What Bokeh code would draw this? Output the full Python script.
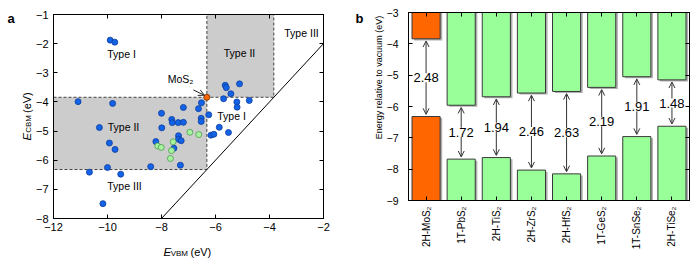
import math
from bokeh.plotting import figure
from bokeh.models import (ColumnDataSource, Label, LabelSet, Arrow, OpenHead,
                          LinearAxis, CategoricalAxis, CustomJSTickFormatter,
                          FixedTicker, Range1d, FactorRange)
from bokeh.layouts import row
from bokeh.embed import file_html
from bokeh.resources import INLINE
from bokeh.core.properties import value
from bokeh.transform import dodge

FONT = "Liberation Sans"

# ---------------- Panel a data ----------------
blue_vbm = [-9.90, -9.73, -11.09, -9.81, -10.30, -9.93, -9.72, -10.00, -10.67, -9.51,
            -10.17, -8.40, -8.21, -8.00, -7.99, -7.62, -7.60, -7.38, -7.19, -7.19,
            -7.37, -7.37, -7.27, -7.54, -7.30, -6.63, -6.52, -6.53, -6.53, -6.25,
            -6.17, -6.06, -5.86, -5.52, -5.70, -5.64, -5.60, -5.43, -5.11, -5.21,
            -5.20, -4.75]
blue_cbm = [-1.88, -1.95, -3.99, -4.05, -4.88, -5.41, -5.63, -6.25, -6.41, -6.48,
            -7.49, -6.22, -5.36, -4.39, -4.89, -4.60, -4.71, -4.71, -4.70, -4.19,
            -5.16, -5.28, -5.33, -5.59, -6.17, -4.23, -4.03, -4.56, -4.67, -4.44,
            -5.14, -5.11, -4.87, -5.05, -3.89, -3.43, -3.51, -3.72, -3.38, -4.00,
            -4.18, -3.95]
green_vbm = [-8.14, -8.01, -7.57, -7.63, -7.67, -6.95, -6.62]
green_cbm = [-5.51, -5.56, -5.37, -5.67, -5.94, -5.04, -5.12]
mos2_vbm = -6.32
mos2_cbm = -3.84

xa_lo, xa_hi = -12, -2
ya_lo, ya_hi = -8, -1
xa_ticks = [-12, -10, -8, -6, -4, -2]
ya_ticks = [-8, -7, -6, -5, -4, -3, -2, -1]

# ---------------- Panel b data ----------------
materials = ["2H-MoS\u2082", "1T-PbS\u2082", "2H-TiS\u2082", "2H-ZrS\u2082",
             "2H-HfS\u2082", "1T-GeS\u2082", "1T-SnSe\u2082", "2H-TiSe\u2082"]
cbm = [-3.84, -5.96, -5.69, -5.57, -5.52, -5.39, -5.05, -5.15]
gaps = [2.48, 1.72, 1.94, 2.46, 2.63, 2.19, 1.91, 1.48]
vbm = [round(c - g, 2) for c, g in zip(cbm, gaps)]
yb_lo, yb_hi = -9, -3
yb_ticks = [-9, -8, -7, -6, -5, -4, -3]

MINUS = CustomJSTickFormatter(code="return (tick < 0 ? '\\u2212' : '') + Math.abs(tick);")
BLANK = CustomJSTickFormatter(code="return '';")


def style_axis(ax, size="11px", standoff=5):
    ax.major_tick_in = 4
    ax.major_tick_out = 0
    ax.minor_tick_line_color = None
    ax.axis_line_color = "black"
    ax.major_tick_line_color = "black"
    ax.major_label_text_font = FONT
    ax.major_label_text_font_size = size
    ax.major_label_text_color = "black"
    ax.major_label_standoff = standoff


def mirror_axis(ax):
    style_axis(ax)
    ax.formatter = BLANK
    ax.major_label_standoff = 0
    ax.axis_label = None


def base_fig(w, h, xr, yr, left, right, top, bottom):
    p = figure(width=w, height=h, x_range=xr, y_range=yr,
               output_backend="svg", toolbar_location=None,
               min_border_left=left, min_border_right=right,
               min_border_top=top, min_border_bottom=bottom)
    p.frame_align = False
    p.xgrid.visible = False
    p.ygrid.visible = False
    p.outline_line_color = "black"
    p.outline_line_width = 1
    p.background_fill_color = "white"
    p.border_fill_color = "white"
    return p


def side_label(p, side, text, x, y, size, align="left", baseline="alphabetic", style="normal", angle=0.0):
    # placed in a side panel (not clipped to the frame), positioned in canvas pixels
    p.add_layout(Label(x=x, y=y, x_units="canvas", y_units="canvas", text=text, text_font=FONT,
                       text_font_size=size, text_align=align, text_baseline=baseline,
                       text_font_style=style, text_color="black", angle=angle), side)


# ================= Panel a =================
pa = base_fig(342, 260, Range1d(xa_lo, xa_hi), Range1d(ya_lo, ya_hi), 53, 19, 14, 42)

for ax in pa.xaxis:
    ax.ticker = FixedTicker(ticks=xa_ticks)
    ax.formatter = MINUS
    style_axis(ax, "11px", 4)
for ax in pa.yaxis:
    ax.ticker = FixedTicker(ticks=ya_ticks)
    ax.formatter = MINUS
    style_axis(ax, "11px", 5)
top_a = LinearAxis(ticker=FixedTicker(ticks=xa_ticks))
mirror_axis(top_a)
pa.add_layout(top_a, "above")
right_a = LinearAxis(ticker=FixedTicker(ticks=ya_ticks))
mirror_axis(right_a)
pa.add_layout(right_a, "right")

SHADE = "#cccccc"
DASH_C = "#444444"
pa.quad(left=[xa_lo], right=[mos2_vbm], bottom=[mos2_vbm], top=[mos2_cbm],
        fill_color=SHADE, line_color=DASH_C, line_dash="3 2", line_width=1)
pa.quad(left=[mos2_vbm], right=[mos2_cbm], bottom=[mos2_cbm], top=[ya_hi],
        fill_color=SHADE, line_color=DASH_C, line_dash="3 2", line_width=1)
pa.line(x=[ya_lo, xa_hi], y=[ya_lo, xa_hi], line_color="black", line_width=1)

pa.scatter(x=blue_vbm, y=blue_cbm, size=6, fill_color="#1463E6", line_color="#0B3C9C", line_width=0.8)
pa.scatter(x=green_vbm, y=green_cbm, size=6, fill_color="#A6F29E", line_color="#4F9A4F", line_width=0.8)
pa.scatter(x=[mos2_vbm], y=[mos2_cbm], size=6, fill_color="#FF6600", line_color="#6A2A00", line_width=0.8)

pa.add_layout(Arrow(end=OpenHead(size=6, line_color="#222222", line_width=1),
                    x_start=mos2_vbm - 0.5, y_start=mos2_cbm + 0.25,
                    x_end=mos2_vbm - 0.09, y_end=mos2_cbm + 0.07,
                    line_color="#222222", line_width=1))


def ax_(px):
    return xa_lo + (px - 53) / 27.0


def ay_(py):
    return ya_hi - (py - 14) / 29.143


def lab_a(text, px, py, size="10.5px"):
    pa.add_layout(Label(x=ax_(px), y=ay_(py), text=text, text_font=FONT, text_font_size=size,
                        text_align="center", text_baseline="middle", text_color="black"))


lab_a("Type I", 121, 54)
lab_a("Type II", 123, 127)
lab_a("Type III", 124, 186)
lab_a("Type II", 239, 53)
lab_a("Type III", 301, 33)
lab_a("Type I", 231, 116)
lab_a("MoS\u2082", 180, 79)

side_label(pa, "left", "a", 7, 18, "13px", style="bold")
# y-axis label: E_CBM (eV)
side_label(pa, "left", "E", 26, 140, "11.5px", style="italic", angle=math.pi / 2)
side_label(pa, "left", "CBM", 28, 132.3, "8px", angle=math.pi / 2)
side_label(pa, "right", "(eV)", 26, 112.5, "11px", angle=math.pi / 2)
# x-axis label: E_VBM (eV)
side_label(pa, "below", "E", 163, 251, "11.5px", style="italic")
side_label(pa, "below", "VBM", 170.2, 253, "8px")
side_label(pa, "above", "(eV)", 190, 251, "11px")

# ================= Panel b =================
pb = base_fig(355, 260, FactorRange(*materials), Range1d(yb_lo, yb_hi), 66, 8, 12, 60)

for ax in pb.yaxis:
    ax.ticker = FixedTicker(ticks=yb_ticks)
    ax.formatter = MINUS
    style_axis(ax, "10.5px", 10)
for ax in pb.xaxis:
    style_axis(ax, "10px", 6)
    ax.major_label_orientation = math.pi / 2
top_b = CategoricalAxis()
mirror_axis(top_b)
pb.add_layout(top_b, "above")
right_b = LinearAxis(ticker=FixedTicker(ticks=yb_ticks))
mirror_axis(right_b)
pb.add_layout(right_b, "right")

bar_colors = ["#FF6600"] + ["#99FF99"] * (len(materials) - 1)
xs = [i + 0.5 for i in range(len(materials))]
src = ColumnDataSource(dict(mat=materials, cbm=cbm, vbm=vbm, color=bar_colors, x=xs,
                            top_arrow=[c - 0.07 for c in cbm], bot_arrow=[v + 0.07 for v in vbm],
                            mid=[(c + v) / 2 for c, v in zip(cbm, vbm)],
                            gap=[f"{g:.2f}" for g in gaps],
                            ceil=[yb_hi] * len(materials), floor=[yb_lo] * len(materials),
                            cbm_sh=[c - 0.05 for c in cbm], vbm_sh=[v - 0.05 for v in vbm]))

pb.vbar(x=dodge("mat", 0.06, range=pb.x_range), width=0.8, top="ceil", bottom="cbm_sh", source=src,
        fill_color="#9a9a9a", line_color=None, fill_alpha=0.8)
pb.vbar(x=dodge("mat", 0.06, range=pb.x_range), width=0.8, top="vbm_sh", bottom="floor", source=src,
        fill_color="#9a9a9a", line_color=None, fill_alpha=0.8)
pb.vbar(x="mat", width=0.8, top="ceil", bottom="cbm", source=src,
        fill_color="color", line_color="#3a3a3a", line_width=1)
pb.vbar(x="mat", width=0.8, top="vbm", bottom="floor", source=src,
        fill_color="color", line_color="#3a3a3a", line_width=1)

pb.add_layout(Arrow(start=OpenHead(size=6, line_color="#333333", line_width=1),
                    end=OpenHead(size=6, line_color="#333333", line_width=1),
                    x_start="x", y_start="top_arrow", x_end="x", y_end="bot_arrow",
                    source=src, line_color="#333333", line_width=1))
pb.add_layout(LabelSet(x="x", y="mid", text="gap", source=src, text_align="center",
                       text_baseline="middle", text_font=value(FONT), text_font_size=value("13px"),
                       text_color="black", background_fill_color="white"))

side_label(pb, "left", "b", 13, 18, "13px", style="bold")
side_label(pb, "left", "Energy relative to vacuum (eV)", 36, 77, "9px", align="center", angle=math.pi / 2)

layout = row(pa, pb)
open("out.html", "w").write(file_html(layout, INLINE))
